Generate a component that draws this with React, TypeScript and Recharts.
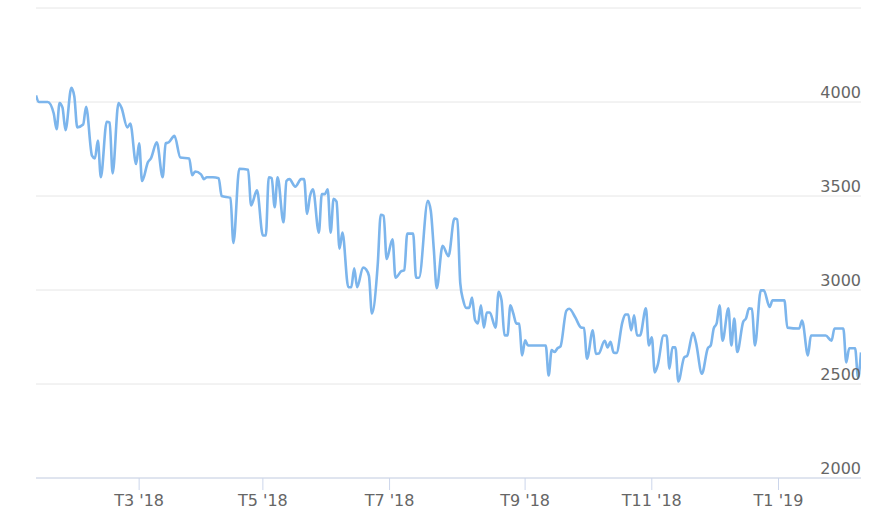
import React from "react";
import { LineChart, Line, XAxis, YAxis, CartesianGrid } from "recharts";

// trading-session index (0 = first session shown)
const sessions = [
  0, 1, 4, 6, 7, 8, 9, 10, 12, 13, 14, 16, 17, 19, 20, 21, 22, 24, 25, 26, 28, 29, 31, 32, 34, 35, 36, 38, 39,
  41, 43, 44, 45, 47, 49, 52, 53, 54, 56, 57, 58, 60, 62, 63, 66, 67, 69, 72, 73, 75, 77, 78, 79, 80, 81, 82,
  84, 85, 86, 88, 90, 91, 92, 93, 94, 96, 97, 98, 99, 100, 101, 102, 103, 104, 106, 107, 108, 109, 111, 112,
  113, 114, 116, 117, 118, 119, 121, 122, 124, 125, 126, 128, 129, 130, 133, 134, 135, 136, 138, 140, 142,
  143, 144, 145, 146, 147, 148, 149, 150, 151, 152, 153, 154, 156, 157, 158, 159, 160, 161, 162, 163, 164,
  165, 166, 167, 173, 174, 175, 176, 177, 178, 180, 181, 183, 185, 186, 187, 189, 190, 191, 193, 194, 195,
  196, 197, 199, 200, 201, 202, 203, 204, 205, 207, 208, 209, 210, 211, 213, 214, 215, 216, 217, 218, 220,
  221, 223, 224, 226, 228, 229, 230, 231, 232, 233, 235, 236, 237, 238, 240, 241, 242, 243, 244, 246, 247,
  249, 250, 254, 255, 259, 260, 262, 263, 264, 268, 270, 271, 274, 275, 276, 278, 279, 280,
];

const prices = [
  4035, 4000, 4000, 3940, 3855, 3995, 3970, 3850, 4075, 4030, 3865, 3880, 3975, 3715, 3700, 3795, 3600, 3895,
  3890, 3620, 3995, 3970, 3865, 3885, 3670, 3780, 3580, 3680, 3700, 3785, 3600, 3780, 3785, 3820, 3705, 3700,
  3610, 3630, 3615, 3590, 3600, 3600, 3595, 3500, 3490, 3250, 3645, 3640, 3450, 3530, 3290, 3290, 3600, 3595,
  3440, 3600, 3360, 3580, 3590, 3550, 3590, 3590, 3405, 3500, 3535, 3305, 3510, 3510, 3535, 3305, 3485, 3470,
  3220, 3305, 3015, 3015, 3115, 3015, 3120, 3110, 3075, 2875, 3140, 3400, 3395, 3165, 3270, 3065, 3100, 3105,
  3300, 3300, 3065, 3065, 3475, 3420, 3220, 3010, 3235, 3180, 3380, 3375, 3035, 2945, 2905, 2905, 2960, 2840,
  2822, 2918, 2800, 2880, 2880, 2800, 2990, 2945, 2760, 2758, 2918, 2875, 2822, 2820, 2652, 2732, 2705, 2705,
  2545, 2680, 2670, 2690, 2700, 2890, 2900, 2855, 2800, 2798, 2635, 2785, 2660, 2662, 2730, 2695, 2725, 2668,
  2665, 2828, 2870, 2870, 2785, 2865, 2758, 2758, 2902, 2705, 2748, 2562, 2600, 2758, 2758, 2582, 2695, 2695,
  2513, 2642, 2650, 2773, 2720, 2555, 2690, 2705, 2795, 2822, 2918, 2730, 2902, 2705, 2848, 2670, 2830, 2850,
  2902, 2900, 2705, 2998, 2998, 2910, 2945, 2945, 2800, 2795, 2838, 2652, 2758, 2758, 2758, 2730, 2795, 2795,
  2615, 2690, 2690, 2535, 2668,
];

const monthTicks = [35, 77, 120, 166, 209, 252];
const monthLabels = ["T3 '18", "T5 '18", "T7 '18", "T9 '18", "T11 '18", "T1 '19"];
const yTicks = [2000, 2500, 3000, 3500, 4000, 4500];

const data = sessions.map((s, i) => ({ s, price: prices[i] }));

const FONT = "'DejaVu Sans', sans-serif";
const PLOT_RIGHT = 861;

const renderXTick = (props: any) => {
  const { x, y, payload } = props;
  const idx = monthTicks.indexOf(payload.value);
  return (
    <text key={`xt-${payload.value}`} x={x} y={y + 14} textAnchor="middle" fill="#666666" fontSize={16} fontFamily={FONT}>
      {idx >= 0 ? monthLabels[idx] : ""}
    </text>
  );
};

const renderYTick = (props: any) => {
  const { y, payload } = props;
  if (payload.value === 4500) return <g key="yt-top" />;
  return (
    <text key={`yt-${payload.value}`} x={PLOT_RIGHT} y={y - 4} textAnchor="end" fill="#666666" fontSize={16} fontFamily={FONT}>
      {payload.value}
    </text>
  );
};

export default function App() {
  return (
    <div style={{ position: "absolute", left: 0, top: 0, width: 887, height: 516, background: "#ffffff" }}>
      <LineChart width={887} height={516} data={data} margin={{ top: 8, right: 16, bottom: 8, left: 36 }}>
        <CartesianGrid vertical={false} stroke="#e6e6e6" strokeWidth={1} />
        <YAxis
          orientation="right"
          width={10}
          domain={[2000, 4500]}
          ticks={yTicks}
          axisLine={false}
          tickLine={false}
          tick={renderYTick}
          interval={0}
          allowDataOverflow
        />
        <XAxis
          dataKey="s"
          type="number"
          domain={[0, 280]}
          ticks={monthTicks}
          height={30}
          tickSize={12}
          stroke="#ccd6eb"
          tick={renderXTick}
          interval={0}
          allowDataOverflow
        />
        <Line
          type="monotone"
          dataKey="price"
          stroke="#7cb5ec"
          strokeWidth={2.6}
          dot={false}
          activeDot={false}
          isAnimationActive={false}
        />
      </LineChart>
    </div>
  );
}
